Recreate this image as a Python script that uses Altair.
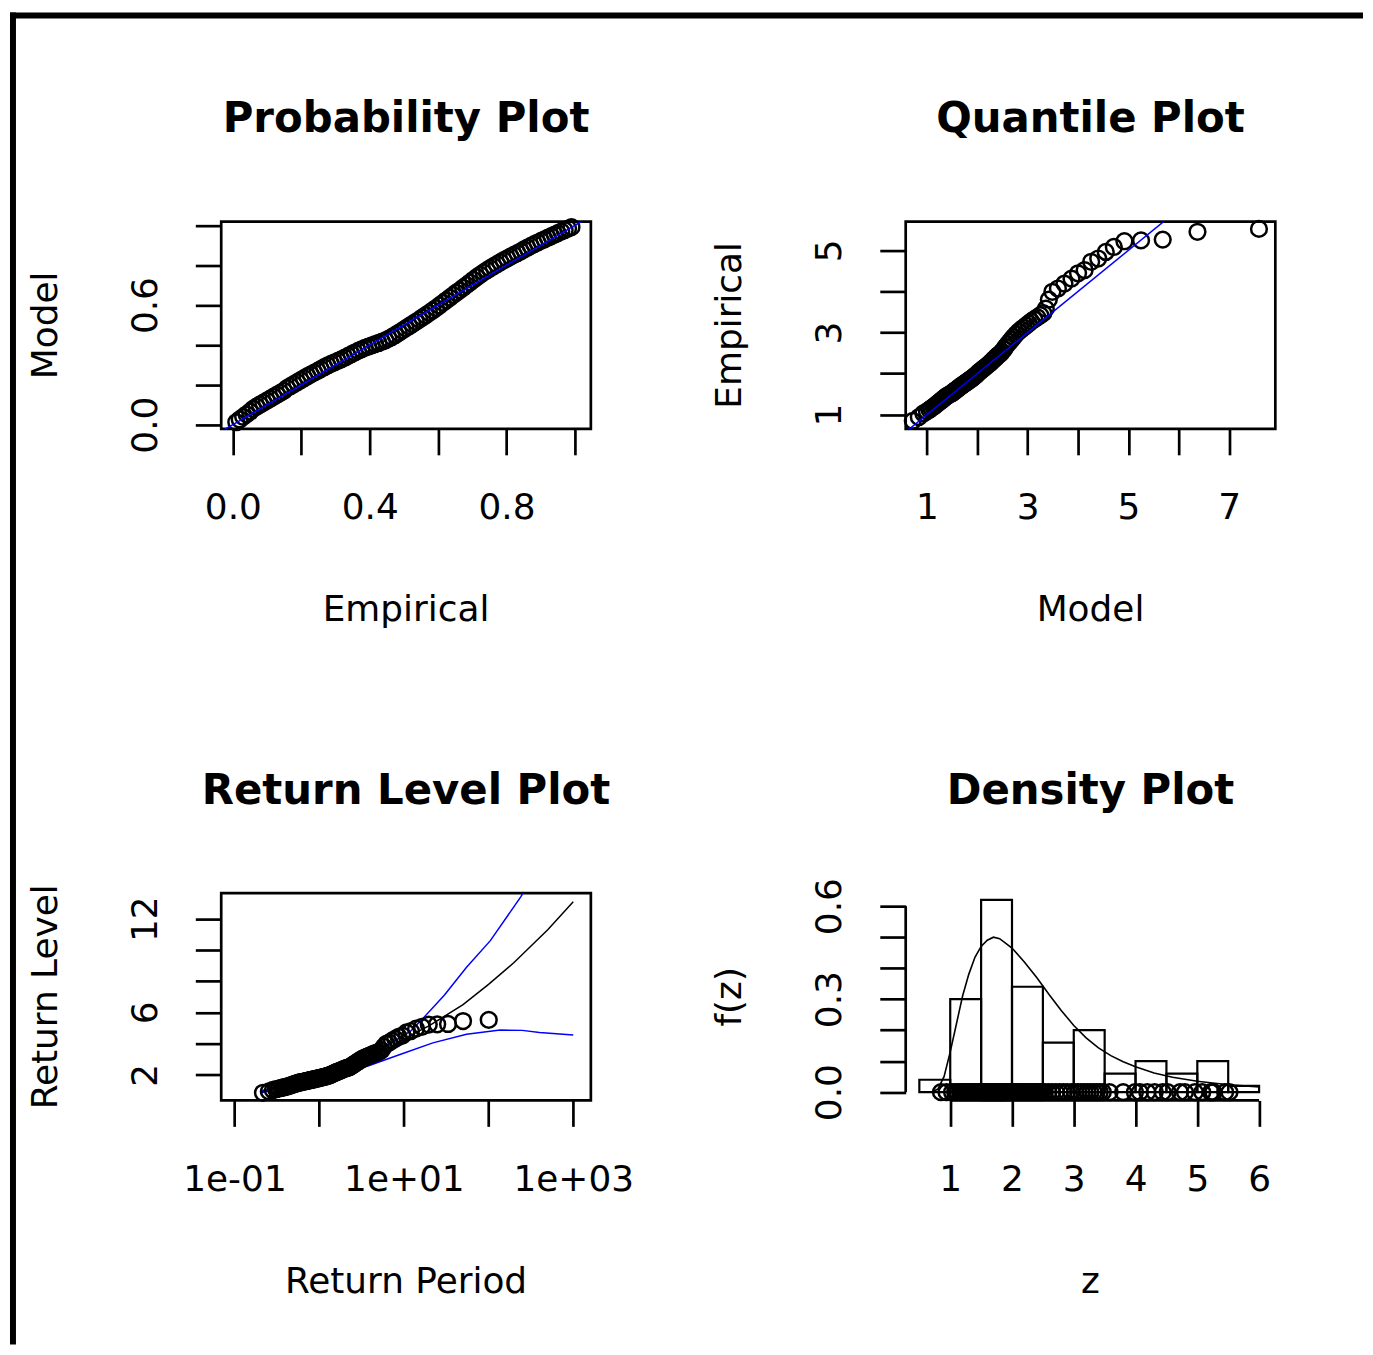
import altair as alt
import pandas as pd

FONT = "DejaVu Sans"
W, H = 371, 208

# ---------------- text ----------------
titles = ["Probability Plot", "Quantile Plot", "Return Level Plot", "Density Plot"]
x_titles = ["Empirical", "Model", "Return Period", "z"]
y_titles = ["Model", "Empirical", "Return Level", "f(z)"]

# ---------------- ticks ----------------
p1_xtick = [0.0, 0.2, 0.4, 0.6, 0.8, 1.0]
p1_xtext = ["0.0", "", "0.4", "", "0.8", ""]
p1_ytick = [0.0, 0.2, 0.4, 0.6, 0.8, 1.0]
p1_ytext = ["0.0", "", "", "0.6", "", ""]
p2_xtick = [1, 2, 3, 4, 5, 6, 7]
p2_xtext = ["1", "", "3", "", "5", "", "7"]
p2_ytick = [1, 2, 3, 4, 5]
p2_ytext = ["1", "", "3", "", "5"]
p3_xtick = [0.1, 1, 10, 100, 1000]
p3_xtext = ["1e-01", "", "1e+01", "", "1e+03"]
p3_ytick = [2, 4, 6, 8, 10, 12]
p3_ytext = ["2", "", "6", "", "", "12"]
p4_xtick = [1, 2, 3, 4, 5, 6]
p4_xtext = ["1", "2", "3", "4", "5", "6"]
p4_ytick = [0.0, 0.1, 0.2, 0.3, 0.4, 0.5, 0.6]
p4_ytext = ["0.0", "", "", "0.3", "", "", "0.6"]

# ---------------- data ----------------
emp_prob = [0.010, 0.020, 0.030, 0.040, 0.050, 0.059, 0.069, 0.079, 0.089, 0.099,
            0.109, 0.119, 0.129, 0.139, 0.149, 0.158, 0.168, 0.178, 0.188, 0.198,
            0.208, 0.218, 0.228, 0.238, 0.248, 0.257, 0.267, 0.277, 0.287, 0.297,
            0.307, 0.317, 0.327, 0.337, 0.347, 0.356, 0.366, 0.376, 0.386, 0.396,
            0.406, 0.416, 0.426, 0.436, 0.446, 0.455, 0.465, 0.475, 0.485, 0.495,
            0.505, 0.515, 0.525, 0.535, 0.545, 0.554, 0.564, 0.574, 0.584, 0.594,
            0.604, 0.614, 0.624, 0.634, 0.644, 0.653, 0.663, 0.673, 0.683, 0.693,
            0.703, 0.713, 0.723, 0.733, 0.743, 0.752, 0.762, 0.772, 0.782, 0.792,
            0.802, 0.812, 0.822, 0.832, 0.842, 0.851, 0.861, 0.871, 0.881, 0.891,
            0.901, 0.911, 0.921, 0.931, 0.941, 0.950, 0.960, 0.970, 0.980, 0.990]
model_prob = [0.012, 0.026, 0.039, 0.052, 0.065,
              0.079, 0.090, 0.100, 0.110, 0.120, 0.130, 0.140, 0.150, 0.160, 0.170,
              0.183, 0.193, 0.203, 0.213, 0.223, 0.233, 0.243, 0.252, 0.261, 0.270,
              0.279, 0.288, 0.297, 0.305, 0.313,
              0.320, 0.328, 0.336, 0.345, 0.354, 0.362, 0.370, 0.378, 0.385, 0.392,
              0.398, 0.404, 0.410, 0.416, 0.423, 0.431, 0.440, 0.450, 0.461, 0.472,
              0.483, 0.494, 0.505, 0.516, 0.527, 0.538, 0.549, 0.561, 0.573, 0.585,
              0.598, 0.611, 0.624, 0.637, 0.650, 0.662, 0.674, 0.687, 0.700, 0.713,
              0.727, 0.740, 0.752, 0.764, 0.775, 0.785, 0.795, 0.805, 0.815, 0.825,
              0.834, 0.843, 0.852, 0.861, 0.870, 0.879, 0.888, 0.897, 0.906, 0.914,
              0.922, 0.930, 0.938, 0.946, 0.954, 0.961, 0.969, 0.976, 0.984, 0.991]
z_sorted = [0.85, 0.94,
            1.03, 1.08, 1.12, 1.16, 1.19, 1.22, 1.25, 1.28, 1.31, 1.34, 1.37, 1.40, 1.43, 1.46, 1.48,
            1.51, 1.52, 1.54, 1.55, 1.57, 1.58, 1.60, 1.61, 1.63, 1.64, 1.66, 1.67, 1.69, 1.70, 1.72,
            1.73, 1.75, 1.76, 1.78, 1.79, 1.81, 1.82, 1.84, 1.85, 1.87, 1.88, 1.90, 1.92, 1.94, 1.96, 1.98,
            2.02, 2.05, 2.08, 2.11, 2.14, 2.17, 2.20, 2.23, 2.26, 2.29, 2.32, 2.35, 2.38, 2.41, 2.44, 2.46, 2.49,
            2.53, 2.59, 2.65, 2.71, 2.77, 2.83, 2.89, 2.96,
            3.02, 3.07, 3.12, 3.17, 3.22, 3.27, 3.32, 3.37, 3.42, 3.47,
            3.58, 3.80, 3.99,
            4.07, 4.19, 4.31, 4.44, 4.52,
            4.72, 4.80, 4.96,
            5.08, 5.22, 5.24, 5.26, 5.45,
            5.52]
model_quant = [0.72, 0.84,
               0.93, 1.00, 1.05, 1.09, 1.13, 1.16, 1.19, 1.22, 1.25, 1.28, 1.31, 1.34, 1.37, 1.40, 1.43,
               1.48, 1.49, 1.51, 1.53, 1.54, 1.56, 1.57, 1.59, 1.61, 1.62, 1.64, 1.65, 1.67, 1.69, 1.70,
               1.72, 1.74, 1.75, 1.77, 1.79, 1.81, 1.82, 1.84, 1.86, 1.88, 1.89, 1.91, 1.93, 1.95, 1.97, 1.99,
               2.02, 2.05, 2.08, 2.11, 2.14, 2.17, 2.20, 2.23, 2.26, 2.28, 2.31, 2.33, 2.36, 2.38, 2.41, 2.43, 2.46,
               2.49, 2.53, 2.56, 2.60, 2.64, 2.68, 2.72, 2.77,
               2.82, 2.87, 2.92, 2.97, 3.02, 3.07, 3.13, 3.19, 3.25, 3.31,
               3.36, 3.42, 3.49,
               3.60, 3.73, 3.87, 4.00, 4.13,
               4.26, 4.40, 4.55,
               4.71, 4.92, 5.25, 5.68, 6.37,
               7.59]
return_period = [0.217, 0.255, 0.284, 0.310, 0.333, 0.354, 0.375, 0.394, 0.414, 0.432,
                 0.451, 0.469, 0.488, 0.506, 0.524, 0.543, 0.561, 0.580, 0.599, 0.618,
                 0.637, 0.656, 0.676, 0.696, 0.716, 0.737, 0.758, 0.780, 0.801, 0.824,
                 0.847, 0.870, 0.894, 0.919, 0.944, 0.969, 0.996, 1.023, 1.051, 1.080,
                 1.109, 1.140, 1.171, 1.204, 1.237, 1.272, 1.307, 1.344, 1.383, 1.422,
                 1.464, 1.506, 1.551, 1.597, 1.645, 1.696, 1.748, 1.803, 1.860, 1.920,
                 1.983, 2.049, 2.119, 2.192, 2.269, 2.351, 2.437, 2.528, 2.625, 2.728,
                 2.838, 2.955, 3.081, 3.215, 3.360, 3.516, 3.686, 3.870, 4.070, 4.290,
                 4.531, 4.799, 5.094, 5.426, 5.801, 6.219, 6.702, 7.257, 7.905, 8.673,
                 9.597, 10.72, 12.12, 13.93, 16.34, 19.69, 24.75, 33.22, 50.00, 100.5]

diag_ends = [-0.2, 9.0]

rl_fit_x = [0.2, 0.3, 0.5, 1, 2, 3, 5, 10, 20, 50, 100, 200, 500, 1000]
rl_fit_y = [0.88, 1.15, 1.50, 1.92, 2.42, 2.78, 3.30, 4.30, 5.15, 6.50, 7.80, 9.20, 11.3, 13.1]
rl_up_x = [0.2, 0.5, 1, 2, 3, 5, 10, 12, 17, 30, 55, 105, 240, 500, 1000]
rl_up_y = [0.95, 1.58, 2.00, 2.52, 2.90, 3.50, 4.55, 4.80, 5.65, 7.10, 8.90, 10.6, 13.4, 16.4, 20.0]
rl_lo_x = [0.2, 0.5, 1, 2, 3.7, 9, 22, 55, 137, 250, 400, 1000]
rl_lo_y = [0.82, 1.42, 1.84, 2.30, 2.55, 3.30, 4.05, 4.60, 4.87, 4.85, 4.72, 4.55]

hist_left = [0.5, 1.0, 1.5, 2.0, 2.5, 3.0, 3.5, 4.0, 4.5, 5.0, 5.5]
hist_right = [1.0, 1.5, 2.0, 2.5, 3.0, 3.5, 4.0, 4.5, 5.0, 5.5, 6.0]
hist_density = [0.04, 0.30, 0.62, 0.34, 0.16, 0.20, 0.06, 0.10, 0.06, 0.10, 0.02]

dens_x = [0.5, 0.7, 0.8, 0.9, 1.0, 1.1, 1.2, 1.3, 1.4, 1.5, 1.6, 1.7, 1.8, 1.9, 2.0,
          2.2, 2.4, 2.6, 2.8, 3.0, 3.2, 3.4, 3.6, 3.8, 4.0, 4.3, 4.6, 5.0, 5.5, 6.0]
dens_y = [0.0, 0.0, 0.01, 0.05, 0.13, 0.22, 0.31, 0.38, 0.435, 0.47, 0.49, 0.50, 0.495, 0.48, 0.465,
          0.42, 0.37, 0.315, 0.263, 0.215, 0.175, 0.143, 0.118, 0.098, 0.082, 0.062, 0.048, 0.035, 0.024, 0.017]


# ---------------- helpers ----------------
def tick_expr(values, texts):
    parts = []
    for v, t in zip(values, texts):
        if t:
            tol = 1e-6 * max(1.0, abs(v))
            parts.append(f"abs(datum.value - ({v})) < {tol} ? '{t}'")
    return " : ".join(parts) + " : ''"


def make_axis(values, texts, kind):
    common = dict(values=values, labelExpr=tick_expr(values, texts), title=None, grid=False,
                  domain=False, ticks=True, tickSize=26, tickWidth=2.7, tickColor="black",
                  labelFont=FONT, labelFontSize=36, labelColor="black", labelOverlap=False,
                  labelFlush=False, labelAlign="center", labelBaseline="middle")
    if kind == "x":
        return alt.Axis(labelAngle=0, labelPadding=53, **common)
    return alt.Axis(labelAngle=270, labelPadding=50, **common)


def enc_pair(xdom, xt, xtx, ydom, yt, ytx, xlog=False):
    xs = alt.Scale(domain=xdom, nice=False, zero=False, type="log" if xlog else "linear")
    ys = alt.Scale(domain=ydom, nice=False, zero=False)
    X = alt.X("x:Q", scale=xs, axis=make_axis(xt, xtx, "x"))
    Y = alt.Y("y:Q", scale=ys, axis=make_axis(yt, ytx, "y"))
    return X, Y


def texts_for(i):
    t = alt.Chart(pd.DataFrame({"t": [titles[i]]})).mark_text(
        font=FONT, fontSize=42, fontWeight="bold", color="black",
        align="center", baseline="alphabetic").encode(
        x=alt.value(W / 2), y=alt.value(-90), text="t:N")
    xt = alt.Chart(pd.DataFrame({"t": [x_titles[i]]})).mark_text(
        font=FONT, fontSize=36, color="black", align="center", baseline="alphabetic").encode(
        x=alt.value(W / 2), y=alt.value(401), text="t:N")
    yt = alt.Chart(pd.DataFrame({"t": [y_titles[i]]})).mark_text(
        font=FONT, fontSize=36, color="black", align="center", baseline="alphabetic", angle=270).encode(
        x=alt.value(-165), y=alt.value(H / 2), text="t:N")
    return [t, xt, yt]


def circles(df, X, Y):
    return alt.Chart(df).mark_point(shape="circle", size=250, filled=False, color="black",
                                    strokeWidth=2.5, opacity=1).encode(x=X, y=Y)


BLUE = "#0000FF"

# ---------------- panel 1: probability ----------------
X1, Y1 = enc_pair([-0.0341, 1.0466], p1_xtick, p1_xtext, [-0.0215, 1.0185], p1_ytick, p1_ytext)
df1 = pd.DataFrame({"x": emp_prob, "y": model_prob})
diag1 = pd.DataFrame({"x": diag_ends, "y": diag_ends})
frame = pd.DataFrame({"k": [0]})
# outer border of the picture (filled bands, so bounds equal geometry)
frame_top = alt.Chart(frame).mark_rect(color="black", strokeWidth=0).encode(
    x=alt.value(-212), x2=alt.value(1146), y=alt.value(-210), y2=alt.value(-204))
frame_left = alt.Chart(frame).mark_rect(color="black", strokeWidth=0).encode(
    x=alt.value(-212), x2=alt.value(-206), y=alt.value(-210), y2=alt.value(1127))
p1 = alt.layer(
    frame_top, frame_left,
    circles(df1, X1, Y1),
    alt.Chart(diag1).mark_line(color=BLUE, strokeWidth=1.5, clip=True).encode(x=X1, y=Y1),
    *texts_for(0),
).properties(width=W, height=H)

# ---------------- panel 2: quantile ----------------
X2, Y2 = enc_pair([0.579, 7.915], p2_xtick, p2_xtext, [0.653, 5.696], p2_ytick, p2_ytext)
df2 = pd.DataFrame({"x": model_quant, "y": z_sorted})
diag2 = pd.DataFrame({"x": diag_ends, "y": diag_ends})
p2 = alt.layer(
    circles(df2, X2, Y2),
    alt.Chart(diag2).mark_line(color=BLUE, strokeWidth=1.5, clip=True).encode(x=X2, y=Y2),
    *texts_for(1),
).properties(width=W, height=H)

# ---------------- panel 3: return level ----------------
X3, Y3 = enc_pair([0.06975, 1614], p3_xtick, p3_xtext, [0.359, 13.641], p3_ytick, p3_ytext, xlog=True)
df3 = pd.DataFrame({"x": return_period, "y": z_sorted})
fit3 = pd.DataFrame({"x": rl_fit_x, "y": rl_fit_y})
up3 = pd.DataFrame({"x": rl_up_x, "y": rl_up_y})
lo3 = pd.DataFrame({"x": rl_lo_x, "y": rl_lo_y})
p3 = alt.layer(
    alt.Chart(fit3).mark_line(color="black", strokeWidth=1.5, clip=True).encode(x=X3, y=Y3),
    alt.Chart(up3).mark_line(color=BLUE, strokeWidth=1.5, clip=True).encode(x=X3, y=Y3),
    alt.Chart(lo3).mark_line(color=BLUE, strokeWidth=1.5, clip=True).encode(x=X3, y=Y3),
    circles(df3, X3, Y3),
    *texts_for(2),
).properties(width=W, height=H)

# ---------------- panel 4: density ----------------
X4, Y4 = enc_pair([0.279, 6.263], p4_xtick, p4_xtext, [-0.0267, 0.6418], p4_ytick, p4_ytext)
hist4 = pd.DataFrame({"x": hist_left, "x2": hist_right, "y": [0.0] * len(hist_left), "y2": hist_density})
rug4 = pd.DataFrame({"x": z_sorted, "y": [0.0] * len(z_sorted)})
dens4 = pd.DataFrame({"x": dens_x, "y": dens_y})
xline4 = pd.DataFrame({"x": [p4_xtick[0]], "x2": [p4_xtick[-1]]})
yline4 = pd.DataFrame({"y": [p4_ytick[0]], "y2": [p4_ytick[-1]]})
p4 = alt.layer(
    alt.Chart(hist4).mark_rect(fill="white", fillOpacity=0, stroke="black", strokeWidth=2.2).encode(
        x=X4, x2="x2:Q", y=Y4, y2="y2:Q"),
    circles(rug4, X4, Y4),
    alt.Chart(dens4).mark_line(color="black", strokeWidth=1.6).encode(x=X4, y=Y4),
    alt.Chart(xline4).mark_rule(color="black", strokeWidth=2.7).encode(x=X4, x2="x2:Q", y=alt.value(H)),
    alt.Chart(yline4).mark_rule(color="black", strokeWidth=2.7).encode(x=alt.value(0), y=Y4, y2="y2:Q"),
    *texts_for(3),
).properties(width=W, height=H, view=alt.ViewBackground(stroke="transparent"))

chart = alt.concat(p1, p2, p3, p4, columns=2, spacing={"row": 466, "column": 316},
                   bounds="flush", padding=0).configure(background="white").configure_view(
    stroke="black", strokeWidth=2.7)

chart.save("out.html", embed_options={"renderer": "svg", "actions": False})
